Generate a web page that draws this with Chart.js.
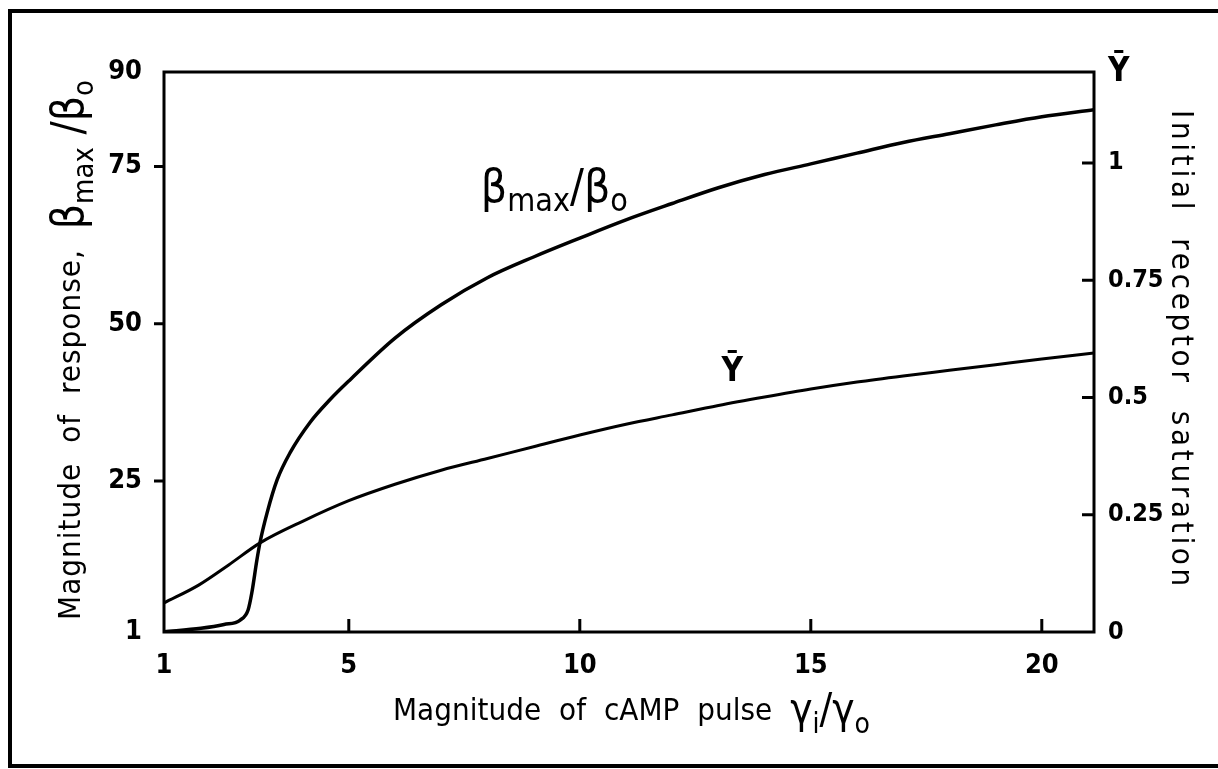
<!DOCTYPE html>
<html>
<head>
<meta charset="utf-8">
<script src="https://cdn.jsdelivr.net/npm/chart.js@4.4.1/dist/chart.umd.min.js"></script>
<style>
  html, body { margin: 0; padding: 0; background: #fff; }
  #wrap { width: 1218px; height: 769px; }
</style>
</head>
<body>
<div id="wrap"><canvas id="chart" width="1218" height="769"></canvas></div>
<script>
// magnitude of cAMP pulse (x) and response beta_max/beta_o (left axis)
const betaX = [1, 1.8, 2.3, 2.65, 2.82, 2.9, 3.01, 3.08, 3.23, 3.45, 3.73, 4.16, 4.59, 5.03,
    6, 7, 8, 9, 10, 11, 12, 13, 14, 15, 16, 17, 18, 19, 20, 21.13];
const betaY = [1.05, 1.6, 2.2, 2.9, 4.5, 7.2, 12.4, 15.3, 19.9, 25.2, 29.5, 34.3, 37.9, 41.1,
    47.7, 53, 57.3, 60.6, 63.6, 66.5, 69.1, 71.6, 73.7, 75.4, 77.1, 78.8, 80.2, 81.6, 82.9, 84.0];

// initial receptor saturation Y-bar (right axis)
const ybarX = [1, 1.75, 2.4, 3.08, 4, 5, 6, 7, 8, 9, 10, 11, 12, 13, 14, 15, 16, 17, 18, 19, 20, 21.13];
const ybarY = [0.062, 0.10, 0.143, 0.19, 0.236, 0.28, 0.315, 0.345, 0.37, 0.395, 0.42, 0.443,
    0.463, 0.483, 0.501, 0.518, 0.533, 0.546, 0.558, 0.57, 0.582, 0.595];

const xTicks = [1, 5, 10, 15, 20];
const leftTicks = [1, 25, 50, 75, 90];
const rightTicks = [0, 0.25, 0.5, 0.75, 1];
const xMin = 1, xMax = 21.13;
const leftMin = 1, leftMax = 90;
const rightMin = 0, rightMax = 1.194;

// curve labels, in data coordinates
const betaLabelPos = { x: 9.45, y: 71.3 };
const ybarLabelPos = { x: 13.3, y: 0.554 };

const FONT = '"DejaVu Sans Condensed", "DejaVu Sans", sans-serif';

function toPoints(xs, ys) {
    return xs.map((x, i) => ({ x, y: ys[i] }));
}

// draws a run of text pieces (with sub-scripts) one after the other;
// if fitTo is given, the letter spacing of the 'stretch' pieces is adjusted to reach it
function drawRich(ctx, parts, x, y, rot, align, fitTo) {
    ctx.save();
    ctx.translate(x, y);
    ctx.rotate(rot);
    ctx.textBaseline = 'middle';
    ctx.textAlign = 'left';
    ctx.letterSpacing = '0px';
    let total = 0, nStretch = 0;
    parts.forEach(p => {
        ctx.font = p.font;
        total += ctx.measureText(p.t).width;
        if (p.stretch) nStretch += p.t.length;
    });
    const ls = fitTo && nStretch ? (fitTo - total) / nStretch : 0;
    const widths = parts.map(p => {
        ctx.font = p.font;
        ctx.letterSpacing = p.stretch ? ls + 'px' : '0px';
        return ctx.measureText(p.t).width;
    });
    total = widths.reduce((s, w) => s + w, 0);
    let cx = align === 'center' ? -total / 2 : 0;
    parts.forEach((p, i) => {
        ctx.font = p.font;
        ctx.letterSpacing = p.stretch ? ls + 'px' : '0px';
        ctx.fillText(p.t, cx, p.dy || 0);
        cx += widths[i];
    });
    ctx.restore();
}

const decorPlugin = {
    id: 'decor',
    beforeDraw(chart) {
        const ctx = chart.ctx;
        ctx.save();
        ctx.fillStyle = '#fff';
        ctx.fillRect(0, 0, chart.width, chart.height);
        // outer frame of the figure
        ctx.strokeStyle = '#000';
        ctx.lineWidth = 4;
        ctx.strokeRect(10, 11, chart.width + 20, chart.height - 14);
        ctx.restore();
    },
    afterDraw(chart) {
        const ctx = chart.ctx;
        const a = chart.chartArea;
        const sx = chart.scales.x, sl = chart.scales.yLeft, sr = chart.scales.yRight;
        ctx.save();
        ctx.strokeStyle = '#000';
        ctx.fillStyle = '#000';
        ctx.lineWidth = 3;
        ctx.strokeRect(a.left, a.top, a.right - a.left, a.bottom - a.top);

        ctx.beginPath();
        // bottom ticks point inwards
        xTicks.forEach(v => {
            if (v === xMin) return;
            const px = sx.getPixelForValue(v);
            ctx.moveTo(px, a.bottom);
            ctx.lineTo(px, a.bottom - 13);
        });
        // left ticks point outwards
        leftTicks.forEach(v => {
            if (v === leftMin || v === leftMax) return;
            const py = sl.getPixelForValue(v);
            ctx.moveTo(a.left, py);
            ctx.lineTo(a.left - 10, py);
        });
        // right ticks point inwards
        rightTicks.forEach(v => {
            if (v === rightMin) return;
            const py = sr.getPixelForValue(v);
            ctx.moveTo(a.right, py);
            ctx.lineTo(a.right - 12, py);
        });
        ctx.stroke();

        // curve labels
        drawRich(ctx, [
            { t: 'β', font: '46px ' + FONT },
            { t: 'max', font: '32px ' + FONT, dy: 13 },
            { t: '/β', font: '46px ' + FONT },
            { t: 'o', font: '32px ' + FONT, dy: 13 }
        ], sx.getPixelForValue(betaLabelPos.x), sl.getPixelForValue(betaLabelPos.y), 0, 'center');
        drawRich(ctx, [
            { t: 'Ȳ', font: 'bold 33px ' + FONT }
        ], sx.getPixelForValue(ybarLabelPos.x), sr.getPixelForValue(ybarLabelPos.y), 0, 'center');

        // axis titles
        drawRich(ctx, [
            { t: 'Magnitude  of  cAMP  pulse  ', font: '31px ' + FONT, stretch: true },
            { t: 'γ', font: '42px ' + FONT },
            { t: 'i', font: '28px ' + FONT, dy: 14 },
            { t: '/', font: '42px ' + FONT },
            { t: 'γ', font: '42px ' + FONT },
            { t: 'o', font: '28px ' + FONT, dy: 14 }
        ], 393, 712, 0, 'left', 477);
        drawRich(ctx, [
            { t: 'Magnitude  of  response,  ', font: '31px ' + FONT, stretch: true },
            { t: 'β', font: '44px ' + FONT },
            { t: 'max', font: '29px ' + FONT, dy: 13 },
            { t: ' /β', font: '44px ' + FONT },
            { t: 'o', font: '29px ' + FONT, dy: 13 }
        ], 72, 620, -Math.PI / 2, 'left', 540);
        drawRich(ctx, [
            { t: 'Initial  receptor  saturation', font: '31px ' + FONT, stretch: true }
        ], 1180, 110, Math.PI / 2, 'left', 480);
        ctx.restore();
    }
};

new Chart(document.getElementById('chart'), {
    type: 'line',
    data: {
        datasets: [
            {
                label: 'βmax/βo',
                data: toPoints(betaX, betaY),
                yAxisID: 'yLeft',
                borderColor: '#000',
                borderWidth: 3.5,
                pointRadius: 0,
                cubicInterpolationMode: 'monotone',
                fill: false
            },
            {
                label: 'Ȳ',
                data: toPoints(ybarX, ybarY),
                yAxisID: 'yRight',
                borderColor: '#000',
                borderWidth: 3,
                pointRadius: 0,
                cubicInterpolationMode: 'monotone',
                fill: false
            }
        ]
    },
    options: {
        responsive: false,
        animation: false,
        layout: { padding: { top: 72, left: 0, right: 0, bottom: 0 } },
        plugins: {
            legend: { display: false },
            tooltip: { enabled: false }
        },
        scales: {
            x: {
                type: 'linear',
                min: xMin,
                max: xMax,
                grid: { display: false },
                border: { display: false },
                afterBuildTicks: s => { s.ticks = xTicks.map(v => ({ value: v })); },
                afterFit: s => { s.height = 137; },
                ticks: {
                    color: '#000',
                    padding: 10,
                    maxRotation: 0,
                    font: { family: FONT, size: 27, weight: 'bold' },
                    callback: v => String(v)
                }
            },
            yLeft: {
                type: 'linear',
                position: 'left',
                min: leftMin,
                max: leftMax,
                grid: { display: false },
                border: { display: false },
                afterBuildTicks: s => { s.ticks = leftTicks.map(v => ({ value: v })); },
                afterFit: s => { s.width = 164; },
                ticks: {
                    color: '#000',
                    padding: 14,
                    font: { family: FONT, size: 27, weight: 'bold' },
                    callback: v => String(v)
                }
            },
            yRight: {
                type: 'linear',
                position: 'right',
                min: rightMin,
                max: rightMax,
                grid: { display: false },
                border: { display: false },
                afterBuildTicks: s => {
                    s.ticks = rightTicks.map(v => ({ value: v })).concat([{ value: rightMax }]);
                },
                afterFit: s => { s.width = 124; },
                ticks: {
                    color: '#000',
                    padding: 6,
                    font: c => ({
                        family: FONT,
                        size: c.tick && c.tick.value === rightMax ? 33 : 25,
                        weight: 'bold'
                    }),
                    callback: v => (v === rightMax ? 'Ȳ' : String(v))
                }
            }
        }
    },
    plugins: [decorPlugin]
});
</script>
</body>
</html>
